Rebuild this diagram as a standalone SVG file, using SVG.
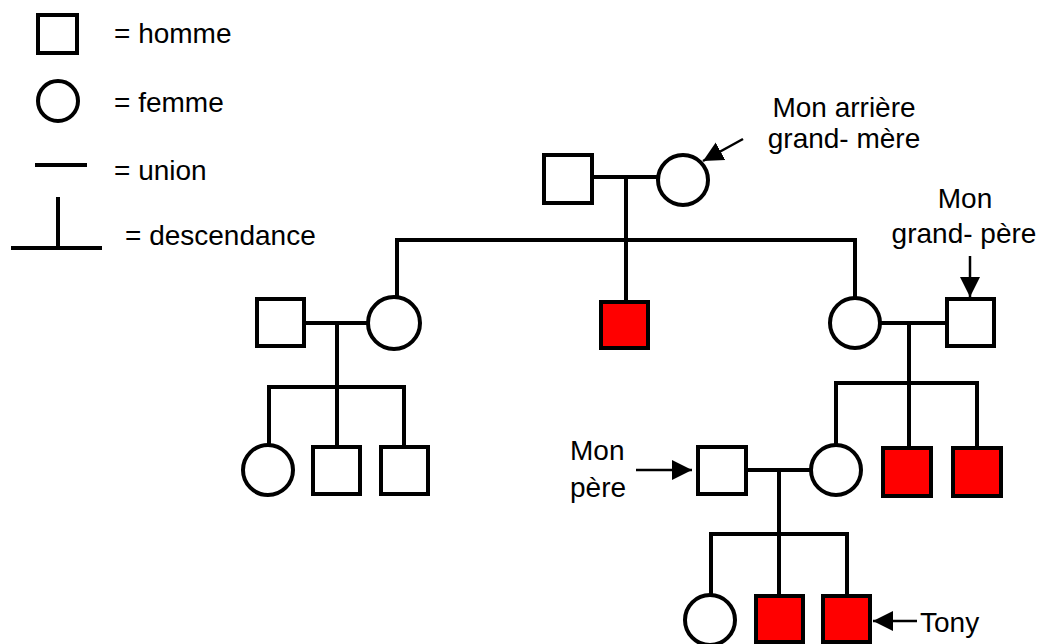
<svg xmlns="http://www.w3.org/2000/svg" width="1042" height="644" viewBox="0 0 1042 644">
<defs>
<style>
.m{fill:#fff;stroke:#000;stroke-width:4}
.a{fill:#f00;stroke:#000;stroke-width:4}
.f{fill:#fff;stroke:#000;stroke-width:4}
.l{fill:none;stroke:#000;stroke-width:4;stroke-linecap:square}
.ar{fill:none;stroke:#000;stroke-width:2.5}
text{font-family:"Liberation Sans",Arial,sans-serif;font-size:28px;fill:#000}
</style>
<marker id="ah" viewBox="0 0 10 10" refX="10" refY="5" markerWidth="8" markerHeight="8.5" markerUnits="strokeWidth" orient="auto">
<path d="M0,0 L10,5 L0,10 Z" fill="#000"/>
</marker>
</defs>
<rect width="1042" height="644" fill="#fff"/>
<g id="legend">
<rect class="m" x="38" y="15" width="39" height="38"/>
<circle class="f" cx="58" cy="101" r="20"/>
<line class="l" x1="37" y1="165" x2="85" y2="165" stroke-linecap="butt"/>
<line class="l" x1="58" y1="199" x2="58" y2="248"/>
<line class="l" x1="13" y1="248" x2="100" y2="248"/>
<text x="114" y="43">= homme</text>
<text x="114" y="112">= femme</text>
<text x="114" y="180">= union</text>
<text x="125" y="245">= descendance</text>
</g>
<g id="connectors">
<polyline class="l" points="593,177 657,177"/>
<polyline class="l" points="626,177 626,302"/>
<polyline class="l" points="397,298 397,240 855,240 855,298"/>
<polyline class="l" points="305,323 368,323"/>
<polyline class="l" points="337,323 337,447"/>
<polyline class="l" points="269,445 269,387 404,387 404,447"/>
<polyline class="l" points="880,323 946,323"/>
<polyline class="l" points="909,323 909,447"/>
<polyline class="l" points="836,444 836,383 977,383 977,447"/>
<polyline class="l" points="746,470 810,470"/>
<polyline class="l" points="779,470 779,596"/>
<polyline class="l" points="711,595 711,534 847,534 847,596"/>
</g>
<g id="arrows">
<line class="ar" x1="743" y1="139" x2="703" y2="161" marker-end="url(#ah)"/>
<line class="ar" x1="970" y1="256" x2="970" y2="297" marker-end="url(#ah)"/>
<line class="ar" x1="636" y1="470" x2="692" y2="470" marker-end="url(#ah)"/>
<line class="ar" x1="917" y1="621" x2="873" y2="621" marker-end="url(#ah)"/>
</g>
<g id="gen1-homme"><rect class="m" x="544" y="155" width="48" height="48"/></g>
<g id="gen1-femme"><circle class="f" cx="683" cy="180" r="25"/></g>
<g id="gen2-homme-g"><rect class="m" x="257" y="299" width="47" height="47"/></g>
<g id="gen2-femme-g"><circle class="f" cx="394" cy="323" r="26"/></g>
<g id="gen2-malade"><rect class="a" x="601" y="302" width="47" height="46"/></g>
<g id="gen2-femme-d"><circle class="f" cx="855" cy="323" r="25"/></g>
<g id="grand-pere"><rect class="m" x="947" y="299" width="47" height="47"/></g>
<g id="gen3-femme-g"><circle class="f" cx="268" cy="470" r="25"/></g>
<g id="gen3-homme-g1"><rect class="m" x="313" y="447" width="47" height="47"/></g>
<g id="gen3-homme-g2"><rect class="m" x="381" y="447" width="47" height="47"/></g>
<g id="pere"><rect class="m" x="698" y="447" width="48" height="47"/></g>
<g id="mere"><circle class="f" cx="836" cy="470" r="25"/></g>
<g id="oncle1"><rect class="a" x="883" y="448" width="48" height="48"/></g>
<g id="oncle2"><rect class="a" x="953" y="448" width="48" height="48"/></g>
<g id="soeur"><circle class="f" cx="710" cy="620" r="25"/></g>
<g id="frere"><rect class="a" x="756" y="596" width="47" height="46"/></g>
<g id="tony"><rect class="a" x="823" y="596" width="47" height="46"/></g>
<g id="labels">
<text x="844" y="117" text-anchor="middle">Mon arrière</text>
<text x="844" y="148" text-anchor="middle">grand- mère</text>
<text x="965" y="208" text-anchor="middle">Mon</text>
<text x="964" y="243" text-anchor="middle">grand- père</text>
<text x="570" y="460">Mon</text>
<text x="570" y="497">père</text>
<text x="920" y="632">Tony</text>
</g>
</svg>
